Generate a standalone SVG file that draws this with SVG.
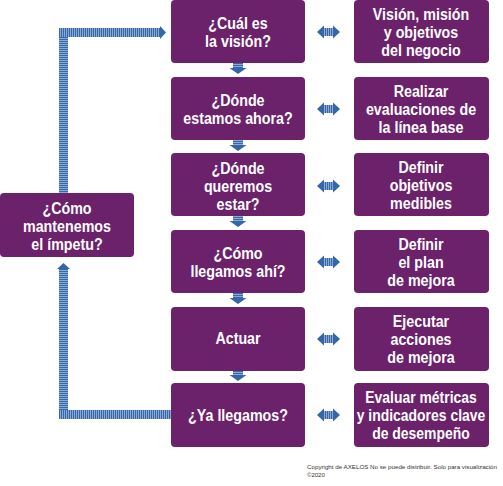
<svg xmlns="http://www.w3.org/2000/svg" width="503" height="486" viewBox="0 0 503 486">
<defs>
<pattern id="pv" patternUnits="userSpaceOnUse" width="2" height="2"><rect width="2" height="2" fill="#3767a8"/><rect width="1" height="2" fill="#8aaad6"/></pattern>
<pattern id="ph" patternUnits="userSpaceOnUse" width="2" height="2"><rect width="2" height="2" fill="#3767a8"/><rect width="2" height="1" fill="#8aaad6"/></pattern>
</defs>
<style>
.box{fill:#6c216b}
.t{fill:#fff;font-family:"Liberation Sans",Arial,sans-serif;font-weight:bold;font-size:17px;text-anchor:middle}
.head{fill:#3566a6}
.cp{fill:#333;font-family:"Liberation Sans",Arial,sans-serif;font-size:6px}
</style>
<g id="connectors">
<g id="down">
<rect x="233" y="63" width="10" height="6" fill="url(#ph)"/><polygon class="head" points="229.5,68 246.5,68 238,74"/>
<rect x="233" y="140" width="10" height="6" fill="url(#ph)"/><polygon class="head" points="229.5,145 246.5,145 238,151"/>
<rect x="233" y="216" width="10" height="6" fill="url(#ph)"/><polygon class="head" points="229.5,221 246.5,221 238,227"/>
<rect x="233" y="293" width="10" height="6" fill="url(#ph)"/><polygon class="head" points="229.5,298 246.5,298 238,304"/>
<rect x="233" y="370" width="10" height="6" fill="url(#ph)"/><polygon class="head" points="229.5,375 246.5,375 238,381"/>
</g>
<g id="double">
<g transform="translate(0,32)"><rect x="323" y="-4" width="11" height="8" fill="url(#pv)"/><polygon class="head" points="317,0 324,-6.5 324,6.5"/><polygon class="head" points="340,0 333,-6.5 333,6.5"/></g>
<g transform="translate(0,109)"><rect x="323" y="-4" width="11" height="8" fill="url(#pv)"/><polygon class="head" points="317,0 324,-6.5 324,6.5"/><polygon class="head" points="340,0 333,-6.5 333,6.5"/></g>
<g transform="translate(0,186)"><rect x="323" y="-4" width="11" height="8" fill="url(#pv)"/><polygon class="head" points="317,0 324,-6.5 324,6.5"/><polygon class="head" points="340,0 333,-6.5 333,6.5"/></g>
<g transform="translate(0,262)"><rect x="323" y="-4" width="11" height="8" fill="url(#pv)"/><polygon class="head" points="317,0 324,-6.5 324,6.5"/><polygon class="head" points="340,0 333,-6.5 333,6.5"/></g>
<g transform="translate(0,339)"><rect x="323" y="-4" width="11" height="8" fill="url(#pv)"/><polygon class="head" points="317,0 324,-6.5 324,6.5"/><polygon class="head" points="340,0 333,-6.5 333,6.5"/></g>
<g transform="translate(0,415)"><rect x="323" y="-4" width="11" height="8" fill="url(#pv)"/><polygon class="head" points="317,0 324,-6.5 324,6.5"/><polygon class="head" points="340,0 333,-6.5 333,6.5"/></g>
</g>
<g id="loop">
<rect x="59" y="28" width="9" height="165" fill="url(#ph)"/>
<rect x="59" y="28" width="102" height="9" fill="url(#pv)"/>
<polygon class="head" points="160,26 166,32.5 160,39"/>
<rect x="59" y="268" width="9" height="151" fill="url(#ph)"/>
<polygon class="head" points="57,269 70,269 63.5,263"/>
<rect x="59" y="410" width="112" height="9" fill="url(#pv)"/>
</g>
</g>
<g id="n1"><rect class="box" x="171" y="0" width="134" height="63" rx="4"/><g transform="translate(238,0) scale(0.84,1)"><text class="t" x="0" y="29">¿Cuál es</text><text class="t" x="0" y="47">la visión?</text></g></g>
<g id="n2"><rect class="box" x="171" y="77" width="134" height="63" rx="4"/><g transform="translate(238,0) scale(0.84,1)"><text class="t" x="0" y="106">¿Dónde</text><text class="t" x="0" y="124">estamos ahora?</text></g></g>
<g id="n3"><rect class="box" x="171" y="153" width="134" height="63" rx="4"/><g transform="translate(238,0) scale(0.84,1)"><text class="t" x="0" y="174">¿Dónde</text><text class="t" x="0" y="192">queremos</text><text class="t" x="0" y="210">estar?</text></g></g>
<g id="n4"><rect class="box" x="171" y="230" width="134" height="63" rx="4"/><g transform="translate(238,0) scale(0.84,1)"><text class="t" x="0" y="259">¿Cómo</text><text class="t" x="0" y="277">llegamos ahí?</text></g></g>
<g id="n5"><rect class="box" x="171" y="307" width="134" height="64" rx="4"/><g transform="translate(238,0) scale(0.84,1)"><text class="t" x="0" y="344">Actuar</text></g></g>
<g id="n6"><rect class="box" x="171" y="383" width="134" height="64" rx="4"/><g transform="translate(238,0) scale(0.84,1)"><text class="t" x="0" y="421">¿Ya llegamos?</text></g></g>
<g id="r1"><rect class="box" x="354" y="0" width="135" height="63" rx="4"/><g transform="translate(421,0) scale(0.84,1)"><text class="t" x="0" y="20">Visión, misión</text><text class="t" x="0" y="38">y objetivos</text><text class="t" x="0" y="56">del negocio</text></g></g>
<g id="r2"><rect class="box" x="354" y="77" width="135" height="63" rx="4"/><g transform="translate(421,0) scale(0.84,1)"><text class="t" x="0" y="97">Realizar</text><text class="t" x="0" y="115">evaluaciones de</text><text class="t" x="0" y="133">la línea base</text></g></g>
<g id="r3"><rect class="box" x="354" y="153" width="135" height="63" rx="4"/><g transform="translate(421,0) scale(0.84,1)"><text class="t" x="0" y="173">Definir</text><text class="t" x="0" y="191">objetivos</text><text class="t" x="0" y="209">medibles</text></g></g>
<g id="r4"><rect class="box" x="354" y="230" width="135" height="63" rx="4"/><g transform="translate(421,0) scale(0.84,1)"><text class="t" x="0" y="250">Definir</text><text class="t" x="0" y="268">el plan</text><text class="t" x="0" y="286">de mejora</text></g></g>
<g id="r5"><rect class="box" x="354" y="307" width="135" height="64" rx="4"/><g transform="translate(421,0) scale(0.84,1)"><text class="t" x="0" y="327">Ejecutar</text><text class="t" x="0" y="345">acciones</text><text class="t" x="0" y="363">de mejora</text></g></g>
<g id="r6"><rect class="box" x="354" y="383" width="135" height="64" rx="4"/><g transform="translate(421,0) scale(0.82,1)"><text class="t" x="0" y="403">Evaluar métricas</text><text class="t" x="0" y="421">y indicadores clave</text><text class="t" x="0" y="439">de desempeño</text></g></g>
<g id="left"><rect class="box" x="0" y="193" width="134" height="64" rx="4"/><g transform="translate(67,0) scale(0.84,1)"><text class="t" x="0" y="214">¿Cómo</text><text class="t" x="0" y="232">mantenemos</text><text class="t" x="0" y="250">el ímpetu?</text></g></g>
<text class="cp" x="307" y="469" textLength="190" lengthAdjust="spacingAndGlyphs">Copyright de AXELOS   No se puede distribuir.  Solo para visualización</text>
<text class="cp" x="307" y="477">©2020</text>
</svg>
